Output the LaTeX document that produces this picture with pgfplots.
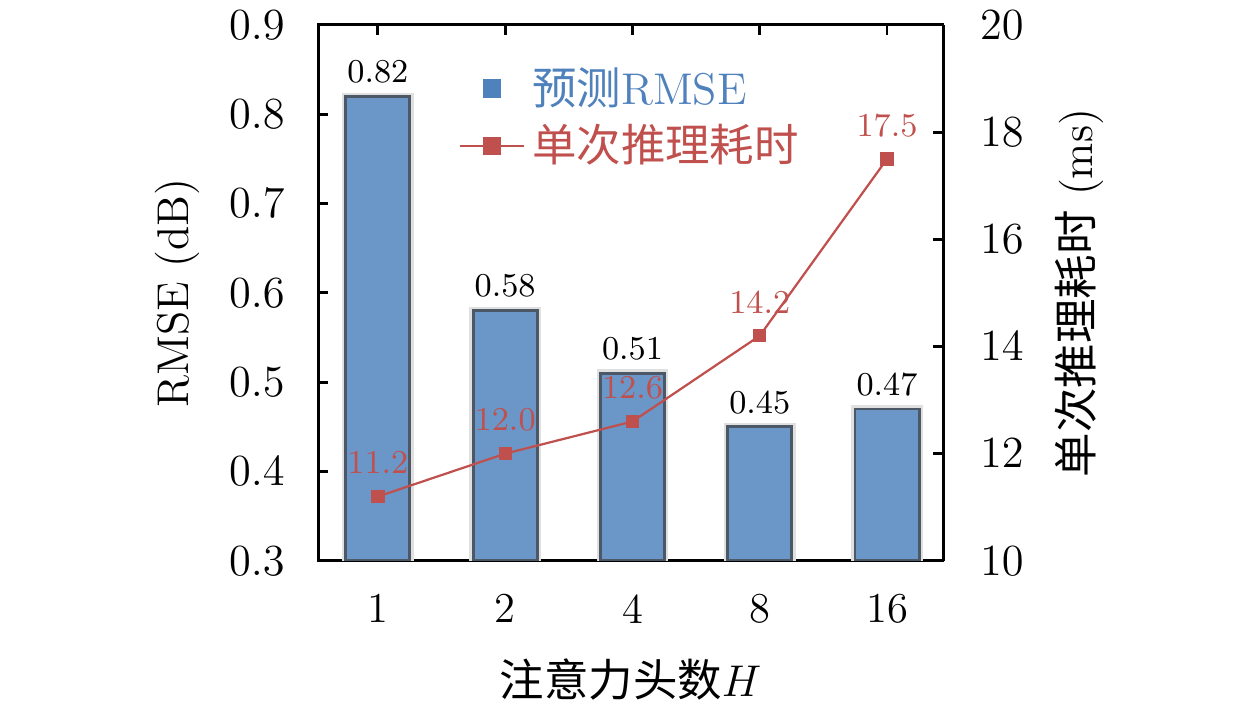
\documentclass[border=0pt]{standalone}
\usepackage{pgfplots}
\pgfplotsset{compat=1.18}
\usepackage{fontspec}
\newfontfamily\cjk{Noto Sans CJK SC}
\definecolor{barblue}{HTML}{6B97C8}
\definecolor{baredge}{HTML}{4D5866}
\definecolor{legblue}{HTML}{4F81BD}
\definecolor{linered}{HTML}{C0504D}
\begin{document}
\begin{tikzpicture}
\pgfplotsset{
  common/.style={
    scale only axis, width=168.75pt, height=144.7pt,
    xmin=-0.47, xmax=4.44,
    tick align=inside, major tick length=2.7pt,
    axis line style={line width=0.8pt},
    every tick/.style={black, line width=0.8pt},
    ticklabel style={font=\fontsize{11.5}{13}\selectfont},
    label style={font=\fontsize{12}{14}\selectfont},
  }
}
\begin{axis}[common,
  ymin=0.3, ymax=0.9,
  ytick={0.3,0.4,0.5,0.6,0.7,0.8,0.9},
  yticklabel style={xshift=-5.5pt, /pgf/number format/.cd, fixed, fixed zerofill, precision=1},
  xticklabel style={yshift=-5.5pt},
  ytick pos=left,
  xtick={0,1,2,3,4}, xticklabels={1,2,4,8,16},
  ylabel={RMSE (dB)},
  ylabel style={at={(axis description cs:-0.2256,0.5)}, anchor=center, rotate=0},
  xlabel={{\cjk 注意力头数}$H$},
  xlabel style={at={(axis description cs:0.5,-0.222)}, anchor=center},
]
\coordinate (SW) at (rel axis cs:0,0);
\coordinate (NE) at (rel axis cs:1,1);
\addplot[ybar, bar width=17.3pt, bar shift=0pt, fill=none, draw=black!12, line width=2.1pt]
  coordinates {(0,0.82) (1,0.58) (2,0.51) (3,0.45) (4,0.47)};
\addplot[ybar, bar width=17.3pt, bar shift=0pt, fill=barblue, draw=baredge, line width=0.8pt,
  nodes near coords,
  nodes near coords style={font=\fontsize{8.6}{10}\selectfont, text=black,
    /pgf/number format/.cd, fixed, fixed zerofill, precision=2}]
  coordinates {(0,0.82) (1,0.58) (2,0.51) (3,0.45) (4,0.47)};
\end{axis}
\begin{axis}[common,
  axis y line*=right, axis x line=none,
  ymin=10, ymax=20, ytick={10,12,14,16,18,20},
  yticklabel style={xshift=6.5pt},
  ylabel={{\cjk 单次推理耗时} (ms)},
  ylabel style={at={(axis description cs:1.219,0.5)}, anchor=center},
  legend style={draw=none, fill=none, at={(0.207,0.95)}, anchor=north west,
    font=\fontsize{12}{13.5}\selectfont, cells={anchor=west}},
]
\addlegendimage{only marks, mark=square*, mark size=2.25pt, color=legblue}
\addlegendentry{\textcolor{legblue}{{\cjk 预测}RMSE}}
\addlegendimage{linered, line width=0.6pt, mark=square*, mark size=2.25pt}
\addlegendentry{\textcolor{linered}{\cjk 单次推理耗时}}
\addplot[linered, line width=0.6pt, mark=square*, mark size=1.5pt, forget plot,
  nodes near coords,
  nodes near coords style={font=\fontsize{9}{10}\selectfont, text=linered, yshift=2.5pt,
    /pgf/number format/.cd, fixed, fixed zerofill, precision=1}]
  coordinates {(0,11.2) (1,12.0) (2,12.6) (3,14.2) (4,17.5)};
\end{axis}
\pgfresetboundingbox
\path[use as bounding box] ([xshift=-85.9pt,yshift=-40.5pt]SW) rectangle ([xshift=85.6pt,yshift=6.75pt]NE);
\end{tikzpicture}
\end{document}
